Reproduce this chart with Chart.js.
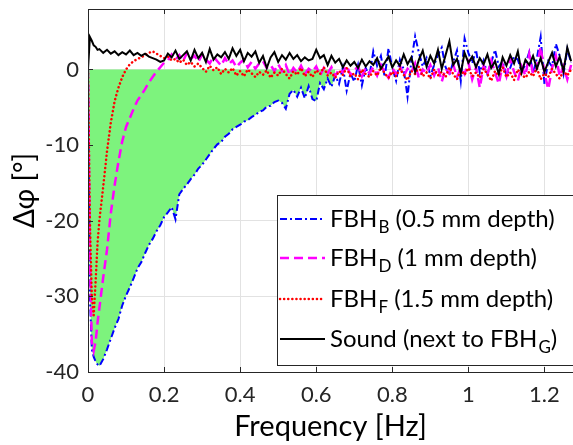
<!DOCTYPE html>
<html>
<head>
<meta charset="utf-8">
<script src="https://cdn.jsdelivr.net/npm/chart.js@4/dist/chart.umd.min.js"></script>
<style>
html,body{margin:0;padding:0;background:#fff;overflow:hidden;}
canvas{display:block;}
</style>
</head>
<body>
<canvas id="c" width="573" height="445"></canvas>
<script>
// ---- data ----
const freq = [0,0.005,0.01,0.015,0.02,0.025,0.03,
0.04,0.05,0.06,0.07,0.08,0.09,0.10,0.11,0.12,0.13,0.14,0.15,0.16,0.17,0.18,0.19,
0.20,0.21,0.22,0.23,0.24,0.25,0.26,0.27,0.28,0.29,0.30,0.31,0.32,0.33,0.34,0.35,0.36,0.37,0.38,0.39,
0.40,0.41,0.42,0.43,0.44,0.45,0.46,0.47,0.48,0.49,0.50,0.51,0.52,0.53,0.54,0.55,0.56,0.57,0.58,0.59,
0.60,0.61,0.62,0.63,0.64,0.65,0.66,0.67,0.68,0.69,0.70,0.71,0.72,0.73,0.74,0.75,0.76,0.77,0.78,0.79,
0.80,0.81,0.82,0.83,0.84,0.85,0.86,0.87,0.88,0.89,0.90,0.91,0.92,0.93,0.94,0.95,0.96,0.97,0.98,0.99,
1.00,1.01,1.02,1.03,1.04,1.05,1.06,1.07,1.08,1.09,1.10,1.11,1.12,1.13,1.14,1.15,1.16,1.17,1.18,1.19,
1.20,1.21,1.22,1.23,1.24,1.25,1.26,1.27];

const fbhB = [0,-30,-37,-38,-38.6,-39,-39.2,
-38.3,-37,-35.6,-34.2,-33,-31.2,-29.9,-28.8,-27.6,-26.3,-25.5,-24.3,-23.2,-22.4,-21.4,-20.6,
-19.5,-18.9,-18.2,-19.8,-16.5,-15.8,-15.2,-14.5,-13.9,-13.1,-12.6,-11.9,-11.2,-10.5,-9.9,-9.6,-8.9,-8.5,-7.9,-7.6,
-7.3,-6.9,-6.7,-6.3,-6.0,-5.6,-5.4,-4.9,-4.8,-4.3,-4.1,-4.4,-5.2,-3.2,-2.7,-3.6,-2.4,-3.8,-2.2,-3.9,
-4.2,-1.8,-2.6,-1.2,-2.3,-0.8,-1.9,0.3,-2.8,-0.5,-1.6,0.6,-2.1,0.2,-0.8,2.4,0.5,1.8,-1.0,2.8,
0.2,-1.5,1.3,0.0,-3.6,1.1,4.4,2.2,0.4,1.5,-0.9,0.6,1.9,2.9,0.3,-0.7,1.0,2.5,-1.5,4.1,
2.2,0.8,2.6,-0.4,1.2,-0.6,0.9,2.6,0.4,1.1,-0.8,0.2,1.7,1.3,-0.3,0.7,2.3,-0.5,1.5,4.3,
-1.9,1.1,0.4,3.4,1.8,-0.6,2.7,0.9];

const fbhD = [0,-25,-36,-37.2,-36,-33.5,-31.5,
-27.5,-23.8,-19,-15.3,-12.2,-9.5,-7.6,-6.4,-5.2,-4.1,-3.4,-2.6,-1.7,-1.0,-0.3,0.3,
0.9,1.2,2.0,1.3,1.9,1.1,2.2,1.4,1.8,1.0,2.0,1.3,0.8,1.7,1.1,0.5,1.5,0.7,1.2,0.3,
0.9,1.3,0.3,1.0,0.1,0.8,1.1,0.2,0.6,-0.2,0.7,-0.2,0.6,-0.7,0.2,-0.4,0.5,-0.6,0.1,-0.3,
0.4,-0.8,0.2,-0.5,0.3,-0.9,0.1,-0.4,0.5,-0.7,-0.1,0.4,-0.9,0.2,-0.5,0.3,-0.8,0.6,-0.3,-1.1,
0.2,-0.6,0.5,-0.9,0.1,-0.4,0.8,-1.2,0.0,-0.5,0.6,-0.8,0.3,-1.6,0.1,-0.5,0.7,-1.0,0.2,-0.6,
0.9,-1.3,0.3,-2.4,0.5,-0.7,1.2,-0.4,-1.9,0.6,-0.9,1.4,-0.3,-1.5,0.4,-0.8,2.0,-0.6,0.3,3.0,
-0.5,-2.6,0.2,1.8,-0.9,0.4,-1.3,0.6];

const fbhF = [0,-20,-30,-32.5,-28,-23,-19.9,
-15.5,-10.8,-7.0,-4.2,-2.4,-1.0,0.0,0.7,1.1,1.4,1.6,1.9,2.2,2.4,2.1,1.8,
1.5,1.7,1.2,1.4,0.9,1.3,0.6,1.0,0.4,0.8,0.2,-0.3,0.5,-0.1,0.3,-0.6,0.1,-0.4,0.2,-0.8,
-0.2,-0.9,0.0,-0.5,-1.0,-0.3,-0.7,-0.1,-1.1,-0.4,-0.8,0.1,-0.6,-1.2,-0.2,-0.7,0.2,-0.9,-0.3,-1.0,
-0.1,-0.6,0.3,-0.8,-0.4,-1.1,-0.2,-0.7,0.2,-0.9,-0.5,-1.3,0.0,-0.6,-1.0,-0.2,-0.8,0.3,-0.5,-1.1,
-0.3,-0.9,0.1,-0.7,-1.4,-0.2,-0.6,0.4,-0.9,-0.4,-1.2,0.0,-0.8,-0.3,-1.0,0.3,-0.6,-1.3,-0.1,-0.7,
0.2,-0.9,-0.4,-1.1,0.1,-0.6,-1.5,-0.2,-0.8,0.3,-1.0,-0.4,-1.4,0.0,-0.7,-1.1,-0.3,-0.9,0.2,-1.3,
-0.5,-1.0,0.1,-0.6,-1.2,-0.2,-0.8,0.0];

const sound = [0,4.3,3.8,3.2,3.0,2.6,2.7,
2.2,2.6,2.1,2.4,1.9,2.3,2.0,2.5,1.9,2.2,1.8,2.1,1.7,1.5,1.3,1.0,
1.2,2.1,1.6,2.5,1.4,1.9,2.4,1.2,2.6,1.5,2.2,1.0,2.7,1.3,2.0,1.6,2.3,1.4,2.8,1.8,
2.6,1.1,2.2,1.7,2.4,0.9,1.8,0.2,1.6,2.3,1.0,1.9,1.3,2.2,1.4,1.9,1.1,1.6,1.2,1.4,
2.6,1.5,1.9,0.6,1.8,0.9,1.4,0.3,1.2,0.5,1.0,0.2,1.3,0.4,1.1,0.6,1.5,0.1,0.9,1.7,
0.3,1.2,0.5,2.0,0.7,1.6,-0.3,1.3,2.5,0.4,1.8,0.8,2.6,0.1,1.9,3.7,0.6,1.4,-0.5,2.2,
0.9,1.7,0.3,1.5,0.7,2.0,0.2,1.1,-0.6,1.6,0.5,1.9,0.8,2.4,-0.4,1.3,0.6,1.8,0.1,1.5,
-0.3,1.0,2.2,0.4,1.7,-0.2,2.9,1.1];

const fillEnd = 0.65;               // green shaded region ends here
const xTickVals = [0,0.2,0.4,0.6,0.8,1.0,1.2];
const xTickLabels = ['0','0.2','0.4','0.6','0.8','1','1.2'];
const yTickVals = [-40,-30,-20,-10,0];
const yTickLabels = ['-40','-30','-20','-10','0'];
const legendMain = ['FBH','FBH','FBH','Sound (next to FBH'];
const legendSub = ['B','D','F','G'];
const legendTail = [' (0.5 mm depth)',' (1 mm depth)',' (1.5 mm depth)',')'];

// ---- build ----
const pts = arr => freq.map((f,i)=>({x:f,y:arr[i]}));
const fillPts = pts(fbhB).filter(p=>p.x<=fillEnd+1e-9);
const FONT = 'Lato, "Open Sans", sans-serif';
const AX = '#262626';

const styles = [
  {color:'#0000ff', dash:[7,3,2,3], width:2, cap:'butt'},
  {color:'#ff00ff', dash:[9,5], width:2.5, cap:'butt'},
  {color:'#ff0000', dash:[0.1,4], width:2.5, cap:'round'},
  {color:'#000000', dash:[], width:2, cap:'butt'}
];

const framePlugin = {
  id:'frame',
  afterDatasetsDraw(chart){
    const {ctx, chartArea:a, scales:{x,y}} = chart;
    ctx.save();
    ctx.strokeStyle = AX; ctx.lineWidth = 1;
    ctx.beginPath();
    ctx.moveTo(a.left+0.5, a.bottom+0.5); ctx.lineTo(a.left+0.5, a.top+0.5); ctx.lineTo(a.right+2, a.top+0.5);
    ctx.moveTo(a.left, a.bottom+0.5); ctx.lineTo(a.right+2, a.bottom+0.5);
    xTickVals.forEach(v=>{
      const px = Math.round(x.getPixelForValue(v))+0.5;
      ctx.moveTo(px,a.bottom); ctx.lineTo(px,a.bottom-5);
      ctx.moveTo(px,a.top); ctx.lineTo(px,a.top+5);
    });
    yTickVals.forEach(v=>{
      const py = Math.round(y.getPixelForValue(v))+0.5;
      ctx.moveTo(a.left,py); ctx.lineTo(a.left+5,py);
    });
    ctx.stroke();
    // legend
    const L = 277, T = 195, B = 365;
    ctx.fillStyle = '#fff';
    ctx.fillRect(L, T, 573-L+2, B-T);
    ctx.strokeStyle = AX;
    ctx.strokeRect(L+0.5, T+0.5, 573-L+5, B-T);
    const rows = [219,258,299,339];
    rows.forEach((ry,i)=>{
      const s = styles[i];
      ctx.save();
      ctx.strokeStyle = s.color; ctx.lineWidth = s.width; ctx.setLineDash(s.dash); ctx.lineCap = s.cap;
      ctx.beginPath(); ctx.moveTo(280, ry); ctx.lineTo(325, ry); ctx.stroke();
      ctx.restore();
      ctx.fillStyle = '#000';
      ctx.textBaseline = 'middle'; ctx.textAlign = 'left';
      ctx.font = '24px ' + FONT;
      let tx = 330;
      ctx.fillText(legendMain[i], tx, ry);
      tx += ctx.measureText(legendMain[i]).width + 1;
      ctx.font = '17px ' + FONT;
      ctx.fillText(legendSub[i], tx, ry+9);
      tx += ctx.measureText(legendSub[i]).width;
      ctx.font = '24px ' + FONT;
      ctx.fillText(legendTail[i], tx, ry);
    });
    ctx.restore();
  }
};

new Chart(document.getElementById('c'), {
  type:'line',
  data:{
    datasets:[
      {data:fillPts, borderWidth:0, pointRadius:0, fill:{target:{value:0}}, backgroundColor:'rgb(125,243,125)', order:5},
      {label:'FBH_B (0.5 mm depth)', data:pts(fbhB), borderColor:styles[0].color, borderWidth:styles[0].width, borderDash:styles[0].dash, pointRadius:0, fill:false, order:4},
      {label:'FBH_D (1 mm depth)', data:pts(fbhD), borderColor:styles[1].color, borderWidth:styles[1].width, borderDash:styles[1].dash, pointRadius:0, fill:false, order:3},
      {label:'FBH_F (1.5 mm depth)', data:pts(fbhF), borderColor:styles[2].color, borderWidth:styles[2].width, borderDash:styles[2].dash, borderCapStyle:'round', pointRadius:0, fill:false, order:2},
      {label:'Sound (next to FBH_G)', data:pts(sound), borderColor:styles[3].color, borderWidth:styles[3].width, pointRadius:0, fill:false, order:1}
    ]
  },
  options:{
    responsive:false, animation:false,
    layout:{padding:{top:9,right:0,left:0,bottom:0}},
    plugins:{legend:{display:false}, tooltip:{enabled:false}},
    elements:{line:{tension:0}},
    scales:{
      x:{type:'linear', min:0, max:1.275,
        afterBuildTicks:s=>{s.ticks = xTickVals.map(v=>({value:v}));},
        afterFit:s=>{s.height = 73; s.paddingLeft = 0; s.paddingRight = 0;},
        ticks:{callback:(v,i)=>xTickLabels[i], font:{family:FONT,size:22}, color:AX, padding:10, maxRotation:0, autoSkip:false},
        grid:{color:'#e2e2e2', drawTicks:false},
        border:{display:false},
        title:{display:true, text:'Frequency [Hz]', font:{family:FONT,size:29}, color:'#000', padding:{top:0,bottom:1}}
      },
      y:{type:'linear', min:-40, max:8,
        afterBuildTicks:s=>{s.ticks = yTickVals.map(v=>({value:v}));},
        afterFit:s=>{s.width = 88; s.paddingTop = 0; s.paddingBottom = 0;},
        ticks:{callback:(v,i)=>yTickLabels[i], font:{family:FONT,size:22}, color:AX, padding:9, autoSkip:false},
        grid:{color:'#e2e2e2', drawTicks:false},
        border:{display:false},
        title:{display:true, text:'Δφ [°]', font:{family:FONT,size:28}, color:'#000', padding:{top:8,bottom:0}}
      }
    }
  },
  plugins:[framePlugin]
});
</script>
</body>
</html>
